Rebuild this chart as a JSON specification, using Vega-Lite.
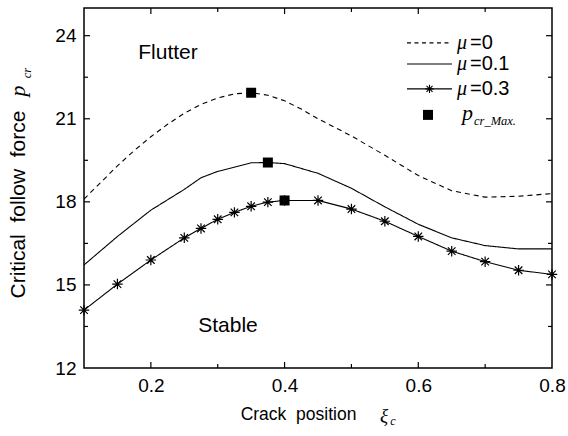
{
  "$schema": "https://vega.github.io/schema/vega-lite/v6.json",
  "width": 468,
  "height": 360,
  "autosize": {"type": "none"},
  "padding": {"left": 84, "top": 8, "right": 16, "bottom": 68},
  "background": "white",
  "config": {
    "view": {"stroke": "black", "strokeWidth": 1.5},
    "font": "Liberation Sans",
    "axis": {
      "domain": false,
      "ticks": false,
      "labelColor": "black",
      "labelFont": "Liberation Sans",
      "labelFontSize": 19,
      "titleColor": "black",
      "titleFont": "Liberation Sans",
      "titleFontWeight": "normal",
      "grid": false
    }
  },
  "datasets": {
    "curves": [
      {"xi": 0.1, "p": 18.1, "mu": "μ=0"},
      {"xi": 0.125, "p": 18.7, "mu": "μ=0"},
      {"xi": 0.15, "p": 19.3, "mu": "μ=0"},
      {"xi": 0.175, "p": 19.85, "mu": "μ=0"},
      {"xi": 0.2, "p": 20.35, "mu": "μ=0"},
      {"xi": 0.225, "p": 20.8, "mu": "μ=0"},
      {"xi": 0.25, "p": 21.2, "mu": "μ=0"},
      {"xi": 0.275, "p": 21.52, "mu": "μ=0"},
      {"xi": 0.3, "p": 21.75, "mu": "μ=0"},
      {"xi": 0.325, "p": 21.9, "mu": "μ=0"},
      {"xi": 0.35, "p": 21.94, "mu": "μ=0"},
      {"xi": 0.375, "p": 21.85, "mu": "μ=0"},
      {"xi": 0.4, "p": 21.65, "mu": "μ=0"},
      {"xi": 0.425, "p": 21.35, "mu": "μ=0"},
      {"xi": 0.45, "p": 21.0, "mu": "μ=0"},
      {"xi": 0.5, "p": 20.38, "mu": "μ=0"},
      {"xi": 0.55, "p": 19.68, "mu": "μ=0"},
      {"xi": 0.6, "p": 18.95, "mu": "μ=0"},
      {"xi": 0.65, "p": 18.4, "mu": "μ=0"},
      {"xi": 0.7, "p": 18.17, "mu": "μ=0"},
      {"xi": 0.75, "p": 18.2, "mu": "μ=0"},
      {"xi": 0.8, "p": 18.3, "mu": "μ=0"},
      {"xi": 0.1, "p": 15.72, "mu": "μ=0.1"},
      {"xi": 0.15, "p": 16.75, "mu": "μ=0.1"},
      {"xi": 0.2, "p": 17.7, "mu": "μ=0.1"},
      {"xi": 0.25, "p": 18.45, "mu": "μ=0.1"},
      {"xi": 0.275, "p": 18.87, "mu": "μ=0.1"},
      {"xi": 0.3, "p": 19.1, "mu": "μ=0.1"},
      {"xi": 0.35, "p": 19.41, "mu": "μ=0.1"},
      {"xi": 0.375, "p": 19.42, "mu": "μ=0.1"},
      {"xi": 0.4, "p": 19.38, "mu": "μ=0.1"},
      {"xi": 0.45, "p": 19.03, "mu": "μ=0.1"},
      {"xi": 0.5, "p": 18.49, "mu": "μ=0.1"},
      {"xi": 0.55, "p": 17.82, "mu": "μ=0.1"},
      {"xi": 0.6, "p": 17.19, "mu": "μ=0.1"},
      {"xi": 0.65, "p": 16.7, "mu": "μ=0.1"},
      {"xi": 0.7, "p": 16.42, "mu": "μ=0.1"},
      {"xi": 0.75, "p": 16.3, "mu": "μ=0.1"},
      {"xi": 0.8, "p": 16.3, "mu": "μ=0.1"},
      {"xi": 0.1, "p": 14.09, "mu": "μ=0.3"},
      {"xi": 0.15, "p": 15.03, "mu": "μ=0.3"},
      {"xi": 0.2, "p": 15.9, "mu": "μ=0.3"},
      {"xi": 0.25, "p": 16.7, "mu": "μ=0.3"},
      {"xi": 0.275, "p": 17.04, "mu": "μ=0.3"},
      {"xi": 0.3, "p": 17.37, "mu": "μ=0.3"},
      {"xi": 0.325, "p": 17.62, "mu": "μ=0.3"},
      {"xi": 0.35, "p": 17.84, "mu": "μ=0.3"},
      {"xi": 0.375, "p": 17.99, "mu": "μ=0.3"},
      {"xi": 0.4, "p": 18.05, "mu": "μ=0.3"},
      {"xi": 0.45, "p": 18.05, "mu": "μ=0.3"},
      {"xi": 0.5, "p": 17.74, "mu": "μ=0.3"},
      {"xi": 0.55, "p": 17.3, "mu": "μ=0.3"},
      {"xi": 0.6, "p": 16.75, "mu": "μ=0.3"},
      {"xi": 0.65, "p": 16.22, "mu": "μ=0.3"},
      {"xi": 0.7, "p": 15.84, "mu": "μ=0.3"},
      {"xi": 0.75, "p": 15.53, "mu": "μ=0.3"},
      {"xi": 0.8, "p": 15.38, "mu": "μ=0.3"}
    ],
    "peaks": [
      {"xi": 0.35, "p": 21.94, "mu": "μ=0"},
      {"xi": 0.375, "p": 19.42, "mu": "μ=0.1"},
      {"xi": 0.4, "p": 18.05, "mu": "μ=0.3"}
    ],
    "xMajor": [{"v": 0.2}, {"v": 0.4}, {"v": 0.6}],
    "xMinor": [{"v": 0.3}, {"v": 0.5}, {"v": 0.7}],
    "yMajor": [{"v": 15}, {"v": 18}, {"v": 21}, {"v": 24}],
    "yMinor": [{"v": 13.5}, {"v": 16.5}, {"v": 19.5}, {"v": 22.5}]
  },
  "layer": [
    {
      "data": {"name": "curves"},
      "mark": {"type": "line", "color": "black", "strokeWidth": 1.1},
      "encoding": {
        "x": {
          "field": "xi",
          "type": "quantitative",
          "scale": {"domain": [0.1, 0.8], "nice": false, "zero": false},
          "axis": {
            "orient": "bottom",
            "values": [0.2, 0.4, 0.6, 0.8],
            "labelExpr": "format(datum.value, '.1f')",
            "labelPadding": 8,
            "labelFlush": false,
            "labelOverlap": false,
            "title": "Crack\u00a0 position",
            "titleFontSize": 17.5,
            "titleX": 214,
            "titleY": 46,
            "titleAlign": "center",
            "titleBaseline": "middle",
            "titleAnchor": null
          }
        },
        "y": {
          "field": "p",
          "type": "quantitative",
          "scale": {"domain": [12, 25], "nice": false, "zero": false},
          "axis": {
            "orient": "left",
            "values": [12, 15, 18, 21, 24],
            "labelPadding": 8,
            "labelFlush": false,
            "labelOverlap": false,
            "title": "Critical\u00a0 follow\u00a0 force",
            "titleFontSize": 21,
            "titleX": -66,
            "titleY": 196,
            "titleAngle": 270,
            "titleAlign": "center",
            "titleBaseline": "middle",
            "titleAnchor": null
          }
        },
        "strokeDash": {
          "field": "mu",
          "type": "nominal",
          "scale": {"domain": ["μ=0", "μ=0.1", "μ=0.3"], "range": [[5, 4], [1, 0], [1, 0]]},
          "legend": null
        }
      }
    },
    {
      "data": {"name": "xMajor"},
      "mark": {"type": "rule", "color": "black", "strokeWidth": 1.2},
      "encoding": {"x": {"field": "v", "type": "quantitative"}, "y": {"datum": 12}, "y2": {"datum": 12.2167}}
    },
    {
      "data": {"name": "xMinor"},
      "mark": {"type": "rule", "color": "black", "strokeWidth": 1.2},
      "encoding": {"x": {"field": "v", "type": "quantitative"}, "y": {"datum": 12}, "y2": {"datum": 12.1444}}
    },
    {
      "data": {"name": "xMajor"},
      "mark": {"type": "rule", "color": "black", "strokeWidth": 1.2},
      "encoding": {"x": {"field": "v", "type": "quantitative"}, "y": {"datum": 25}, "y2": {"datum": 24.7833}}
    },
    {
      "data": {"name": "xMinor"},
      "mark": {"type": "rule", "color": "black", "strokeWidth": 1.2},
      "encoding": {"x": {"field": "v", "type": "quantitative"}, "y": {"datum": 25}, "y2": {"datum": 24.8556}}
    },
    {
      "data": {"name": "yMajor"},
      "mark": {"type": "rule", "color": "black", "strokeWidth": 1.2},
      "encoding": {"y": {"field": "v", "type": "quantitative"}, "x": {"datum": 0.1}, "x2": {"datum": 0.10897}}
    },
    {
      "data": {"name": "yMinor"},
      "mark": {"type": "rule", "color": "black", "strokeWidth": 1.2},
      "encoding": {"y": {"field": "v", "type": "quantitative"}, "x": {"datum": 0.1}, "x2": {"datum": 0.10598}}
    },
    {
      "data": {"name": "yMajor"},
      "mark": {"type": "rule", "color": "black", "strokeWidth": 1.2},
      "encoding": {"y": {"field": "v", "type": "quantitative"}, "x": {"datum": 0.8}, "x2": {"datum": 0.79103}}
    },
    {
      "data": {"name": "yMinor"},
      "mark": {"type": "rule", "color": "black", "strokeWidth": 1.2},
      "encoding": {"y": {"field": "v", "type": "quantitative"}, "x": {"datum": 0.8}, "x2": {"datum": 0.79402}}
    },
    {
      "data": {"name": "curves"},
      "transform": [{"filter": "datum.mu === 'μ=0.3'"}],
      "mark": {
        "type": "point",
        "shape": "M-1,0H1M0,-1V1M-0.72,-0.72L0.72,0.72M-0.72,0.72L0.72,-0.72",
        "filled": false,
        "stroke": "black",
        "strokeWidth": 1.2,
        "size": 110,
        "opacity": 1
      },
      "encoding": {
        "x": {"field": "xi", "type": "quantitative"},
        "y": {"field": "p", "type": "quantitative"}
      }
    },
    {
      "data": {"name": "peaks"},
      "mark": {"type": "square", "color": "black", "filled": true, "size": 100, "opacity": 1},
      "encoding": {
        "x": {"field": "xi", "type": "quantitative"},
        "y": {"field": "p", "type": "quantitative"}
      }
    },
    {
      "data": {"values": [{}]},
      "mark": {"type": "rule", "color": "black", "strokeWidth": 1.1, "strokeDash": [4, 3.5]},
      "encoding": {"x": {"datum": 0.5831}, "x2": {"datum": 0.6504}, "y": {"datum": 23.74}}
    },
    {
      "data": {"values": [{}]},
      "mark": {"type": "rule", "color": "black", "strokeWidth": 1.1},
      "encoding": {"x": {"datum": 0.5831}, "x2": {"datum": 0.6504}, "y": {"datum": 22.98}}
    },
    {
      "data": {"values": [{}]},
      "mark": {"type": "rule", "color": "black", "strokeWidth": 1.1},
      "encoding": {"x": {"datum": 0.5831}, "x2": {"datum": 0.6504}, "y": {"datum": 22.08}}
    },
    {
      "data": {"values": [{}]},
      "mark": {
        "type": "point",
        "shape": "M-1,0H1M0,-1V1M-0.72,-0.72L0.72,0.72M-0.72,0.72L0.72,-0.72",
        "filled": false,
        "stroke": "black",
        "strokeWidth": 1.1,
        "size": 70,
        "opacity": 1
      },
      "encoding": {"x": {"datum": 0.6168}, "y": {"datum": 22.08}}
    },
    {
      "data": {"values": [{}]},
      "mark": {"type": "square", "color": "black", "filled": true, "size": 100, "opacity": 1},
      "encoding": {"x": {"datum": 0.6145}, "y": {"datum": 21.14}}
    },
    {
      "data": {"values": [{"t": "μ"}]},
      "mark": {"type": "text", "font": "Liberation Serif", "fontStyle": "italic", "fontSize": 20, "align": "left", "baseline": "middle", "color": "black"},
      "encoding": {"text": {"field": "t"}, "x": {"datum": 0.6579}, "y": {"datum": 23.74}}
    },
    {
      "data": {"values": [{"t": "μ"}]},
      "mark": {"type": "text", "font": "Liberation Serif", "fontStyle": "italic", "fontSize": 20, "align": "left", "baseline": "middle", "color": "black"},
      "encoding": {"text": {"field": "t"}, "x": {"datum": 0.6579}, "y": {"datum": 22.98}}
    },
    {
      "data": {"values": [{"t": "μ"}]},
      "mark": {"type": "text", "font": "Liberation Serif", "fontStyle": "italic", "fontSize": 20, "align": "left", "baseline": "middle", "color": "black"},
      "encoding": {"text": {"field": "t"}, "x": {"datum": 0.6579}, "y": {"datum": 22.08}}
    },
    {
      "data": {"values": [{"t": "=0"}]},
      "mark": {"type": "text", "fontSize": 20, "align": "left", "baseline": "middle", "color": "black"},
      "encoding": {"text": {"field": "t"}, "x": {"datum": 0.6773}, "y": {"datum": 23.74}}
    },
    {
      "data": {"values": [{"t": "=0.1"}]},
      "mark": {"type": "text", "fontSize": 20, "align": "left", "baseline": "middle", "color": "black"},
      "encoding": {"text": {"field": "t"}, "x": {"datum": 0.6773}, "y": {"datum": 22.98}}
    },
    {
      "data": {"values": [{"t": "=0.3"}]},
      "mark": {"type": "text", "fontSize": 20, "align": "left", "baseline": "middle", "color": "black"},
      "encoding": {"text": {"field": "t"}, "x": {"datum": 0.6773}, "y": {"datum": 22.08}}
    },
    {
      "data": {"values": [{"t": "p"}]},
      "mark": {"type": "text", "font": "Liberation Serif", "fontStyle": "italic", "fontSize": 22, "align": "left", "baseline": "middle", "color": "black"},
      "encoding": {"text": {"field": "t"}, "x": {"datum": 0.6654}, "y": {"datum": 21.2}}
    },
    {
      "data": {"values": [{"t": "cr_Max."}]},
      "mark": {"type": "text", "font": "Liberation Serif", "fontStyle": "italic", "fontSize": 12.5, "align": "left", "baseline": "middle", "color": "black"},
      "encoding": {"text": {"field": "t"}, "x": {"datum": 0.6833}, "y": {"datum": 20.92}}
    },
    {
      "data": {"values": [{"t": "Flutter"}]},
      "mark": {"type": "text", "fontSize": 21, "align": "center", "baseline": "middle", "color": "black"},
      "encoding": {"text": {"field": "t"}, "x": {"datum": 0.2256}, "y": {"datum": 23.375}}
    },
    {
      "data": {"values": [{"t": "Stable"}]},
      "mark": {"type": "text", "fontSize": 21, "align": "center", "baseline": "middle", "color": "black"},
      "encoding": {"text": {"field": "t"}, "x": {"datum": 0.3154}, "y": {"datum": 13.52}}
    },
    {
      "data": {"values": [{"t": "ξ"}]},
      "mark": {"type": "text", "font": "Liberation Serif", "fontStyle": "italic", "fontSize": 19, "align": "center", "baseline": "middle", "color": "black"},
      "encoding": {"text": {"field": "t"}, "x": {"datum": 0.5487}, "y": {"datum": 10.27}}
    },
    {
      "data": {"values": [{"t": "c"}]},
      "mark": {"type": "text", "font": "Liberation Serif", "fontStyle": "italic", "fontSize": 12, "align": "center", "baseline": "middle", "color": "black"},
      "encoding": {"text": {"field": "t"}, "x": {"datum": 0.5622}, "y": {"datum": 10.09}}
    },
    {
      "data": {"values": [{"t": "p"}]},
      "mark": {"type": "text", "font": "Liberation Serif", "fontStyle": "italic", "fontSize": 22, "align": "center", "baseline": "middle", "angle": 270, "color": "black"},
      "encoding": {"text": {"field": "t"}, "x": {"datum": 0.0015}, "y": {"datum": 22.0}}
    },
    {
      "data": {"values": [{"t": "cr"}]},
      "mark": {"type": "text", "font": "Liberation Serif", "fontStyle": "italic", "fontSize": 12.5, "align": "center", "baseline": "middle", "angle": 270, "color": "black"},
      "encoding": {"text": {"field": "t"}, "x": {"datum": 0.0147}, "y": {"datum": 22.65}}
    }
  ]
}
